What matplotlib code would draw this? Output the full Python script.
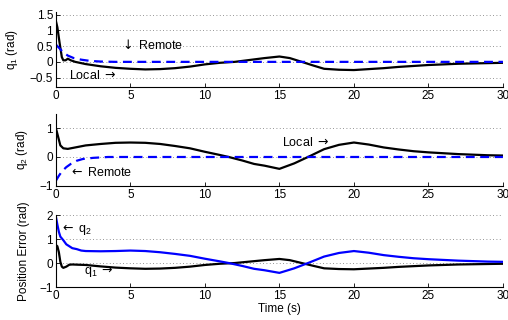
import matplotlib
matplotlib.use("Agg")
import matplotlib.pyplot as plt

plt.rcParams['font.family'] = ['Liberation Sans', 'DejaVu Sans']
plt.rcParams['font.size'] = 8.5
plt.rcParams['mathtext.fontset'] = 'custom'
plt.rcParams['mathtext.rm'] = 'Liberation Sans'
plt.rcParams['mathtext.it'] = 'Liberation Sans'
plt.rcParams['mathtext.sf'] = 'DejaVu Sans'

# q1 local / remote
t_q1_local = [0, 0.1, 0.25, 0.4, 0.5, 0.65, 0.8, 1.0, 1.3, 2, 3, 4, 5, 6, 7, 8, 9, 10, 11, 12, 13, 14, 15,
              15.7, 16.5, 17.3, 18, 19, 20, 21, 22, 23, 24, 25, 26, 27, 28, 29, 30]
q1_local = [1.3, 1.1, 0.6, 0.15, 0.05, 0.05, 0.1, 0.05, 0.0, -0.07, -0.14, -0.19, -0.22, -0.24, -0.23, -0.2,
            -0.15, -0.08, -0.03, 0.0, 0.06, 0.12, 0.17, 0.12, 0.0, -0.12, -0.22, -0.25, -0.26, -0.23, -0.2,
            -0.16, -0.13, -0.1, -0.08, -0.06, -0.05, -0.04, -0.03]
t_q1_remote = [0, 0.2, 0.5, 0.8, 1.2, 1.7, 2.3, 3, 4, 30]
q1_remote = [0.55, 0.45, 0.3, 0.2, 0.12, 0.07, 0.03, 0.01, 0.0, 0.0]

# q2 local / remote
t_q2_local = [0, 0.1, 0.3, 0.5, 0.8, 1.0, 1.5, 2, 3, 4, 5, 6, 7, 8, 9, 10, 11, 11.6, 12.5, 13.3, 14, 15,
              16, 17, 18, 19, 20, 21, 22, 23, 24, 25, 26, 27, 28, 29, 30]
q2_local = [1.0, 0.8, 0.4, 0.3, 0.28, 0.3, 0.35, 0.4, 0.45, 0.49, 0.5, 0.49, 0.45, 0.38, 0.3, 0.18, 0.07, 0.0,
            -0.12, -0.24, -0.3, -0.41, -0.22, 0.02, 0.27, 0.42, 0.5, 0.43, 0.33, 0.26, 0.2, 0.16, 0.13, 0.1,
            0.08, 0.06, 0.05]
t_q2_remote = [0, 0.2, 0.4, 0.7, 1.0, 1.4, 1.8, 2.5, 3.5, 30]
q2_remote = [-0.82, -0.65, -0.5, -0.35, -0.24, -0.13, -0.07, -0.03, 0.0, 0.0]

# position errors
t_err1 = [0, 0.1, 0.2, 0.3, 0.4, 0.5, 0.7, 0.9, 1.1, 1.5, 2, 3, 4, 5, 6, 7, 8, 9, 10, 11, 12, 13, 14, 15,
          15.7, 16.5, 17.3, 18, 19, 20, 21, 22, 23, 24, 25, 26, 27, 28, 29, 30]
err1 = [0.75, 0.7, 0.45, 0.05, -0.15, -0.2, -0.15, -0.07, -0.06, -0.07, -0.08, -0.14, -0.19, -0.22, -0.24,
        -0.23, -0.2, -0.15, -0.08, -0.03, 0.0, 0.06, 0.12, 0.17, 0.12, 0.0, -0.12, -0.22, -0.25, -0.26,
        -0.23, -0.2, -0.16, -0.13, -0.1, -0.08, -0.06, -0.05, -0.04, -0.03]
t_err2 = [0, 0.1, 0.2, 0.3, 0.5, 0.7, 0.9, 1.1, 1.4, 1.7, 2, 3, 4, 5, 6, 7, 8, 9, 10, 11, 11.6, 12.5, 13.3,
          14, 15, 16, 17, 18, 19, 20, 21, 22, 23, 24, 25, 26, 27, 28, 29, 30]
err2 = [1.93, 1.6, 1.3, 1.1, 0.95, 0.78, 0.7, 0.62, 0.58, 0.52, 0.5, 0.49, 0.5, 0.52, 0.5, 0.45, 0.38, 0.3,
        0.18, 0.07, 0.0, -0.12, -0.24, -0.3, -0.41, -0.22, 0.02, 0.27, 0.42, 0.5, 0.43, 0.33, 0.26, 0.2,
        0.16, 0.13, 0.1, 0.08, 0.06, 0.05]

x_ticks = [0, 5, 10, 15, 20, 25, 30]

fig = plt.figure(figsize=(5.08, 3.2), dpi=100)
ax1 = fig.add_axes([0.110, 0.728, 0.880, 0.234])
ax2 = fig.add_axes([0.110, 0.419, 0.880, 0.226])
ax3 = fig.add_axes([0.110, 0.103, 0.880, 0.225])

for ax in (ax1, ax2, ax3):
    ax.set_xlim(0, 30)
    ax.set_xticks(x_ticks)
    ax.spines['top'].set_visible(False)
    ax.spines['right'].set_visible(False)
    ax.tick_params(direction='in', length=3, width=0.6, pad=2)
    ax.yaxis.grid(True, linestyle=(0, (1, 3)), color='0.45', linewidth=0.6)
    ax.set_axisbelow(True)
    ax.patch.set_alpha(0)

RA = r'$\mathsf{\rightarrow}$'
LA = r'$\mathsf{\leftarrow}$'
DA = r'$\mathsf{\downarrow}$'

ax1.plot(t_q1_local, q1_local, color='black', lw=1.6)
ax1.plot(t_q1_remote, q1_remote, color='blue', lw=1.6, dashes=(4, 2.5))
ax1.set_ylim(-0.8, 1.58)
ax1.set_yticks([-0.5, 0, 0.5, 1, 1.5])
ax1.set_yticklabels(['\u22120.5', '0', '0.5', '1', '1.5'])
ax1.set_ylabel('q$_1$ (rad)')
ax1.yaxis.set_label_coords(-0.081, 0.5)
ax1.text(4.3, 0.55, DA + ' Remote', va='center', ha='left', fontsize=9)
ax1.text(0.9, -0.42, 'Local ' + RA, va='center', ha='left', fontsize=9)

ax2.plot(t_q2_local, q2_local, color='black', lw=1.6)
ax2.plot(t_q2_remote, q2_remote, color='blue', lw=1.6, dashes=(4, 2.5))
ax2.set_ylim(-1, 1.5)
ax2.set_yticks([-1, 0, 1])
ax2.set_yticklabels(['\u22121', '0', '1'])
ax2.set_ylabel('q$_2$ (rad)')
ax2.yaxis.set_label_coords(-0.058, 0.5)
ax2.text(15.2, 0.5, 'Local ' + RA, va='center', ha='left', fontsize=9)
ax2.text(0.9, -0.52, LA + ' Remote', va='center', ha='left', fontsize=9)

ax3.plot(t_err1, err1, color='black', lw=1.6)
ax3.plot(t_err2, err2, color='blue', lw=1.6)
ax3.set_ylim(-1, 2)
ax3.set_yticks([-1, 0, 1, 2])
ax3.set_yticklabels(['\u22121', '0', '1', '2'])
ax3.set_ylabel('Position Error (rad)')
ax3.yaxis.set_label_coords(-0.058, 0.5)
ax3.set_xlabel('Time (s)', labelpad=1)
ax3.text(0.25, 1.38, LA + ' q$_2$', va='center', ha='left', fontsize=9)
ax3.text(1.9, -0.35, 'q$_1$ ' + RA, va='center', ha='left', fontsize=9)

fig.savefig('out.png', dpi=100)
